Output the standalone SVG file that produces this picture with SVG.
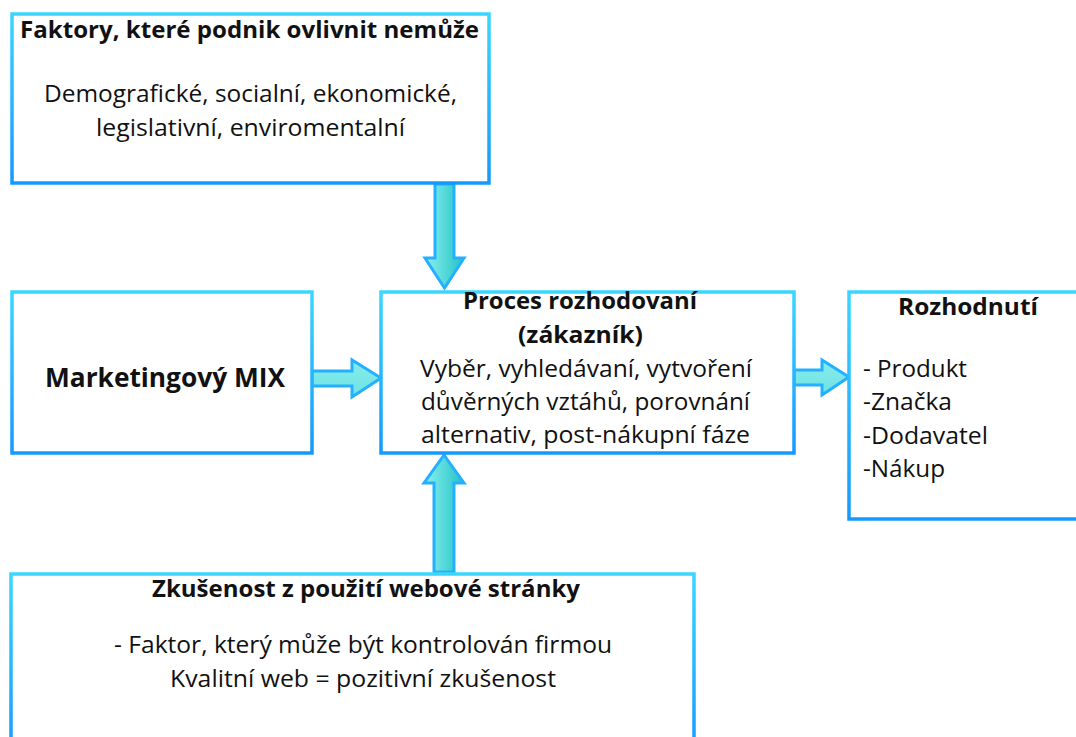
<svg xmlns="http://www.w3.org/2000/svg" width="1076" height="737" viewBox="0 0 1076 737">
<defs>
<linearGradient id="boxStroke" x1="0" y1="0" x2="0" y2="1">
<stop offset="0" stop-color="#3ad6ff"/>
<stop offset="1" stop-color="#1499ff"/>
</linearGradient>
<linearGradient id="arrowV" x1="0" y1="0" x2="1" y2="0">
<stop offset="0" stop-color="#8cf0ee"/>
<stop offset="1" stop-color="#22c2c6"/>
</linearGradient>
<linearGradient id="arrowH" x1="0" y1="0" x2="0" y2="1">
<stop offset="0" stop-color="#86ecea"/>
<stop offset="1" stop-color="#6fe2e4"/>
</linearGradient>
</defs>
<style>
.box{fill:#ffffff;stroke:url(#boxStroke);stroke-width:3.5}
.arr{stroke:#24b0ff;stroke-width:3;stroke-linejoin:miter}
text{font-family:"Open Sans","Noto Sans","Liberation Sans",sans-serif;fill:#111111}
.b{font-weight:bold}
.t{font-size:23px}
.c{text-anchor:middle}
</style>
<rect width="1076" height="737" fill="#ffffff"/>
<g id="connectors">
<path class="arr" fill="url(#arrowV)" d="M435,184 L454,184 L454,258 L464,258 L444.5,288 L425,258 L435,258 Z"/>
<path class="arr" fill="url(#arrowV)" d="M444,455 L464,483 L454,483 L454,572 L434,572 L434,483 L424,483 Z"/>
<path class="arr" fill="url(#arrowH)" d="M312,371 L352,371 L352,360 L381,378 L352,397 L352,386 L312,386 Z"/>
<path class="arr" fill="url(#arrowH)" d="M794,370 L822,370 L822,360 L849,377 L822,395 L822,385 L794,385 Z"/>
</g>
<g id="node-faktory">
<rect class="box" x="12" y="14" width="477" height="169"/>
<text class="b t" x="20" y="38" textLength="459" lengthAdjust="spacingAndGlyphs">Faktory, které podnik ovlivnit nemůže</text>
<text class="t" x="44" y="102" textLength="413" lengthAdjust="spacingAndGlyphs">Demografické, socialní, ekonomické,</text>
<text class="t" x="96" y="136" textLength="309" lengthAdjust="spacingAndGlyphs">legislativní, enviromentalní</text>
</g>
<g id="node-mix">
<rect class="box" x="12" y="292" width="300" height="161"/>
<text class="b" x="45" y="387" font-size="27" textLength="240" lengthAdjust="spacingAndGlyphs">Marketingový MIX</text>
</g>
<g id="node-proces">
<rect class="box" x="381" y="292" width="413" height="161"/>
<text class="b t" x="463" y="309" textLength="234" lengthAdjust="spacingAndGlyphs">Proces rozhodovaní</text>
<text class="b t" x="518" y="343" textLength="125" lengthAdjust="spacingAndGlyphs">(zákazník)</text>
<text class="t" x="420" y="377" textLength="332" lengthAdjust="spacingAndGlyphs">Vyběr, vyhledávaní, vytvoření</text>
<text class="t" x="421" y="410" textLength="329" lengthAdjust="spacingAndGlyphs">důvěrných vztáhů, porovnání</text>
<text class="t" x="421" y="443" textLength="329" lengthAdjust="spacingAndGlyphs">alternativ, post-nákupní fáze</text>
</g>
<g id="node-rozhodnuti">
<rect class="box" x="849" y="292" width="240" height="227"/>
<text class="b t" x="898" y="315" textLength="140" lengthAdjust="spacingAndGlyphs">Rozhodnutí</text>
<text class="t" x="863" y="377" textLength="104" lengthAdjust="spacingAndGlyphs">- Produkt</text>
<text class="t" x="863" y="410" textLength="89" lengthAdjust="spacingAndGlyphs">-Značka</text>
<text class="t" x="863" y="444" textLength="125" lengthAdjust="spacingAndGlyphs">-Dodavatel</text>
<text class="t" x="863" y="477" textLength="82" lengthAdjust="spacingAndGlyphs">-Nákup</text>
</g>
<g id="node-zkusenost">
<rect class="box" x="11" y="574" width="683" height="180"/>
<text class="b t" x="152" y="597" textLength="428" lengthAdjust="spacingAndGlyphs">Zkušenost z použití webové stránky</text>
<text class="t" x="114" y="653" textLength="498" lengthAdjust="spacingAndGlyphs">- Faktor, který může být kontrolován firmou</text>
<text class="t" x="170" y="687" textLength="386" lengthAdjust="spacingAndGlyphs">Kvalitní web = pozitivní zkušenost</text>
</g>
</svg>
